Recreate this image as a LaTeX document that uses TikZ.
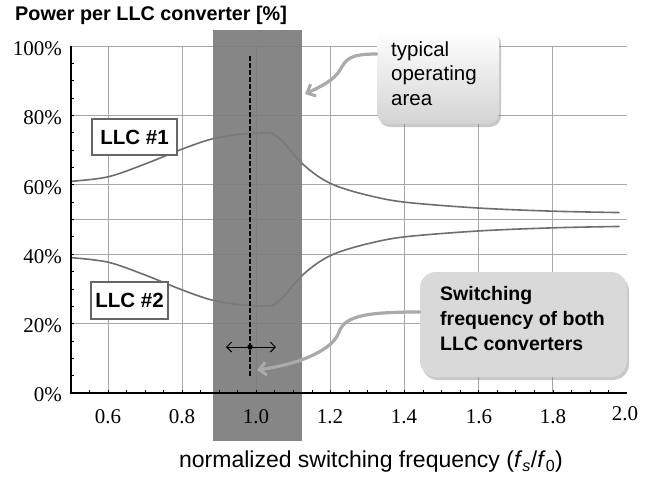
\documentclass[tikz,border=0pt]{standalone}
\usepackage{fontspec}
\setmainfont{Liberation Serif}
\setsansfont{Liberation Sans}
\usetikzlibrary{arrows.meta,shadows,shadings}
\definecolor{gridc}{HTML}{A8A8A8}
\definecolor{curvec}{HTML}{6E6E6E}
\definecolor{bandc}{HTML}{7C7C7C}
\definecolor{callc}{HTML}{AAAAAA}
\definecolor{boxgray}{HTML}{D9D9D9}
\tikzset{
  gridline/.style={gridc, line width=1pt},
  curve/.style={curvec, line width=1.6pt, line join=round},
  axisline/.style={black, line width=1.1pt},
  ticklabel/.style={font=\rmfamily\fontsize{21}{23}\selectfont, inner sep=0pt},
  llcbox/.style={draw=gray!80!black, line width=1.5pt, fill=white, inner sep=0pt,
    font=\sffamily\bfseries\fontsize{20.5}{22}\selectfont},
  callout/.style={callc, line width=3.2pt, line cap=round,
    -{Straight Barb[length=7pt,width=13pt,line width=3pt]}},
  softshadow/.style={drop shadow={shadow xshift=2pt, shadow yshift=-3pt, opacity=0.35, fill=black!60}},
}
\begin{document}
\begin{tikzpicture}[x=1pt,y=-1pt]
\useasboundingbox (0,0) rectangle (654,477);
\fill[white] (0,0) rectangle (654,477);
% title
\node[anchor=west, inner sep=0pt, font=\sffamily\bfseries\fontsize{19.8}{22}\selectfont] (title) at (15,15) {Power per LLC converter [\%]};
% data scope
\begin{scope}[shift={(-114.35,393)}, x=370.7pt, y=3.47pt]
  \foreach \f in {0.6,0.8,1.0,1.2,1.4,1.6,1.8} \draw[gridline] (\f,0) -- (\f,100);
  \foreach \p in {20,40,50,60,80,100} \draw[gridline] (0.5,\p) -- (2.0,\p);
  % LLC #1
  \draw[curve] plot[smooth, tension=0.55] coordinates {(0.5,61) (0.6,62.3) (0.7,66) (0.8,70.3) (0.88,73.2) (0.96,74.6) (1.04,75)};
  \draw[curve] plot[smooth, tension=0.55] coordinates {(1.04,75) (1.07,72.6) (1.12,66.5) (1.17,62.2) (1.22,59.5) (1.3,57) (1.4,55) (1.6,53.3) (1.8,52.4) (1.98,52)};
  % LLC #2
  \draw[curve] plot[smooth, tension=0.55] coordinates {(0.5,39) (0.6,37.7) (0.7,34) (0.8,29.7) (0.88,26.8) (0.96,25.4) (1.04,25)};
  \draw[curve] plot[smooth, tension=0.55] coordinates {(1.04,25) (1.07,27.4) (1.12,33.5) (1.17,37.8) (1.22,40.5) (1.3,43) (1.4,45) (1.6,46.7) (1.8,47.6) (1.98,48)};
\end{scope}
% band
\fill[bandc, opacity=0.92] (213,30) rectangle (302,441);
% axes
\begin{scope}[shift={(-114.35,393)}, x=370.7pt, y=3.47pt]
  \foreach \p in {5,10,...,95} \draw[black, line width=0.8pt] (0.5,\p) -- ++(3pt,0);
  \foreach \f in {0.55,0.6,...,1.96} \draw[black, line width=0.8pt] (\f,0) -- ++(0,3pt);
  \draw[axisline] (0.5,100) -- (0.5,0) -- (2.0,0);
\end{scope}
% y labels
\node[ticklabel, anchor=east] (y100) at (62,49) {100\%};
\node[ticklabel, anchor=east] (y80) at (62,118) {80\%};
\node[ticklabel, anchor=east] (y60) at (62,188) {60\%};
\node[ticklabel, anchor=east] (y40) at (62,257) {40\%};
\node[ticklabel, anchor=east] (y20) at (62,326) {20\%};
\node[ticklabel, anchor=east] (y0) at (62,395) {0\%};
% x labels
\node[ticklabel] (x06) at (108,417) {0.6};
\node[ticklabel] (x08) at (182,417) {0.8};
\node[ticklabel] (x10) at (256,417) {1.0};
\node[ticklabel] (x12) at (330,417) {1.2};
\node[ticklabel] (x14) at (404,417) {1.4};
\node[ticklabel] (x16) at (479,417) {1.6};
\node[ticklabel] (x18) at (553,417) {1.8};
\node[ticklabel] (x20) at (625,414) {2.0};
% x-axis title
\node[inner sep=0pt, font=\sffamily\fontsize{23}{26}\selectfont] (xtitle) at (371,462) {normalized switching frequency (\textit{f}\textsubscript{\textit{s}}/\textit{f}\textsubscript{0})};
% dashed line & marker
\coordinate (dtop) at (250,56);
\coordinate (dbot) at (250,378);
\draw[black, line width=1.5pt, dash pattern=on 4.5pt off 2.5pt] (dtop) -- (dbot);
\coordinate (aleft) at (226,347);
\coordinate (aright) at (276,347);
\node[circle, fill=black, inner sep=0pt, minimum size=5.5pt] (dot) at (250,347) {};
\draw[black, line width=1pt, {Straight Barb[length=5pt,width=10pt]}-{Straight Barb[length=5pt,width=10pt]}] (aleft) -- (aright);
% LLC labels
\node[llcbox, minimum width=85pt, minimum height=36pt] (llc1) at (134.5,137) {LLC \#1};
\node[llcbox, minimum width=77pt, minimum height=37pt] (llc2) at (129.5,300.5) {LLC \#2};
% callout boxes
\node[rounded corners=11pt, top color=white, bottom color=black!17, softshadow,
      minimum width=122pt, minimum height=94pt, inner sep=0pt] (typ) at (438,77) {};
\node[anchor=north west, align=left, inner sep=0pt, font=\sffamily\fontsize{20.5}{24.5}\selectfont] (typtext) at (391,41) {typical\\operating\\area};
\node[rounded corners=16pt, fill=boxgray, softshadow,
      minimum width=207pt, minimum height=105pt, inner sep=0pt] (sw) at (523.5,324.5) {};
\node[anchor=north west, align=left, inner sep=0pt, font=\sffamily\bfseries\fontsize{19.5}{25}\selectfont] (swtext) at (440,286) {Switching\\frequency of both\\LLC converters};
% callout connectors
\coordinate (typtip) at (305,94);
\coordinate (swtip) at (257,370);
\draw[callout] (typ.west |- 0,54) .. controls (348,54) and (346,60) .. (340,70) .. controls (334,80) and (322,86) .. (typtip);
\draw[callout] (sw.west |- 0,312) .. controls (365,312) and (345,316) .. (339,332) .. controls (333,350) and (300,364) .. (swtip);
\end{tikzpicture}
\end{document}
